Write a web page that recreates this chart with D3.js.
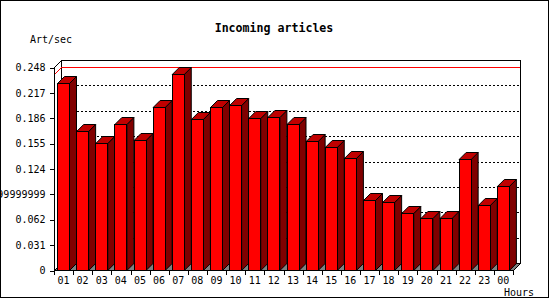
<!DOCTYPE html>
<html>
<head>
<meta charset="utf-8">
<script src="https://cdn.jsdelivr.net/npm/d3@7/dist/d3.min.js"></script>
<style>
  html, body { margin: 0; padding: 0; background: #fff; }
  svg { display: block; }
  text { font-family: "DejaVu Sans Mono", "Liberation Mono", monospace; fill: #000; }
</style>
</head>
<body>
<svg id="chart" width="550" height="300"></svg>
<script>
// ---- data ----
const hours = ["01","02","03","04","05","06","07","08","09","10","11","12",
               "13","14","15","16","17","18","19","20","21","22","23","00"];
const articles = [0.228, 0.170, 0.155, 0.178, 0.159, 0.199, 0.240, 0.185, 0.199, 0.201, 0.186, 0.1875,
                  0.178, 0.157, 0.150, 0.137, 0.086, 0.083, 0.070, 0.064, 0.063, 0.135, 0.079, 0.1025];
const yTickValues = [0, 0.031, 0.062, 0.093, 0.124, 0.155, 0.186, 0.217, 0.248];
const yTickLabels = ["0", "0.031", "0.062", "0.09299999999999999", "0.124", "0.155", "0.186", "0.217", "0.248"];
const titleText = "Incoming articles";
const yAxisLabel = "Art/sec";
const xAxisLabel = "Hours";

(function () {
// ---- layout ----
const svg = d3.select("#chart");
const W = 550, H = 300;
const pLeft = 54, pRight = 513, pBottom = 270, pTop = 67;
const depth = 7;
const barOffset = 3, barWidth = 12;

const x = d3.scaleBand().domain(hours).range([pLeft, pRight]).paddingInner(0).paddingOuter(0);
const y = d3.scaleLinear().domain([0, 0.248]).range([pBottom, pTop]);

svg.append("rect").attr("x", 0).attr("y", 0).attr("width", W).attr("height", H).attr("fill", "#fff");
svg.append("rect").attr("x", 0.5).attr("y", 0.5).attr("width", 548).attr("height", 297)
  .attr("fill", "none").attr("stroke", "#000");

const g = svg.append("g");

// back wall
g.append("rect")
  .attr("x", pLeft + depth + 0.5).attr("y", y(0.248) - depth + 0.5)
  .attr("width", pRight - pLeft).attr("height", y(0) - y(0.248))
  .attr("fill", "#fff").attr("stroke", "#000").attr("shape-rendering", "crispEdges");

// dotted grid lines on the back wall
g.selectAll("line.grid")
  .data(yTickValues.filter(v => v > 0 && v < 0.248))
  .join("line")
  .attr("class", "grid")
  .attr("x1", pLeft + depth).attr("x2", pRight + depth)
  .attr("y1", d => Math.round(y(d)) - depth + 0.5).attr("y2", d => Math.round(y(d)) - depth + 0.5)
  .attr("stroke", "#000").attr("stroke-dasharray", "2,2").attr("shape-rendering", "crispEdges");

// max line (red)
const maxV = d3.max(articles);
const ym = Math.round(y(maxV)) + 0.5;
g.append("line").attr("x1", pLeft + depth).attr("x2", pRight + depth)
  .attr("y1", ym - depth).attr("y2", ym - depth).attr("stroke", "#ff0000").attr("shape-rendering", "crispEdges");
g.append("line").attr("x1", pLeft + 0.5).attr("y1", ym).attr("x2", pLeft + depth + 0.5).attr("y2", ym - depth)
  .attr("stroke", "#ff0000");

// floor
g.append("polygon")
  .attr("points", [[pLeft + 0.5, pBottom + 0.5], [pLeft + depth + 0.5, pBottom - depth + 0.5], [pRight + depth + 0.5, pBottom - depth + 0.5], [pRight + 0.5, pBottom + 0.5]].map(p => p.join(",")).join(" "))
  .attr("fill", "#808080").attr("stroke", "#000").attr("stroke-width", 1);

// left wall edges
g.append("line").attr("x1", pLeft + 0.5).attr("y1", y(0.248) + 0.5).attr("x2", pLeft + depth + 0.5).attr("y2", y(0.248) - depth + 0.5).attr("stroke", "#000");
g.append("line").attr("x1", pLeft + 0.5).attr("y1", y(0.248)).attr("x2", pLeft + 0.5).attr("y2", pBottom + 0.5).attr("stroke", "#000").attr("shape-rendering", "crispEdges");

// bars
const bars = g.selectAll("g.bar").data(hours.map((h, i) => ({h, v: articles[i]}))).join("g").attr("class", "bar");
bars.append("polygon") // side
  .attr("points", d => {
    const x1 = x(d.h) + barOffset + barWidth + 0.5, yt = Math.round(y(d.v)) + 0.5, yb = pBottom + 0.5;
    return [[x1, yb], [x1 + depth, yb - depth], [x1 + depth, yt - depth], [x1, yt]].map(p => p.join(",")).join(" ");
  })
  .attr("fill", "#800000").attr("stroke", "#000");
bars.append("polygon") // top
  .attr("points", d => {
    const x0 = x(d.h) + barOffset + 0.5, x1 = x0 + barWidth, yt = Math.round(y(d.v)) + 0.5;
    return [[x0, yt], [x0 + depth, yt - depth], [x1 + depth, yt - depth], [x1, yt]].map(p => p.join(",")).join(" ");
  })
  .attr("fill", "#c00000").attr("stroke", "#000");
bars.append("rect") // front
  .attr("x", d => x(d.h) + barOffset + 0.5)
  .attr("y", d => Math.round(y(d.v)) + 0.5)
  .attr("width", barWidth)
  .attr("height", d => pBottom - Math.round(y(d.v)))
  .attr("fill", "#ff0000").attr("stroke", "#000").attr("shape-rendering", "crispEdges");

// front bottom axis line
g.append("line").attr("x1", pLeft).attr("x2", pRight).attr("y1", pBottom + 0.5).attr("y2", pBottom + 0.5)
  .attr("stroke", "#000").attr("shape-rendering", "crispEdges");

// y axis ticks & labels
const yAxis = d3.axisLeft(y).tickValues(yTickValues).tickSize(5).tickPadding(4)
  .tickFormat((d, i) => yTickLabels[i]);
const ya = svg.append("g").attr("transform", `translate(${pLeft + 0.5},0.5)`).call(yAxis);
ya.select(".domain").remove();
ya.selectAll("text").style("font-family", "'DejaVu Sans Mono', monospace").style("font-size", "10px").attr("fill", "#000");
ya.selectAll("line").attr("shape-rendering", "crispEdges");

// x axis ticks (at category boundaries) & labels
const xTicks = hours.map(h => x(h)).concat([pRight]);
svg.selectAll("line.xt").data(xTicks).join("line").attr("class", "xt")
  .attr("x1", d => Math.round(d) + 0.5).attr("x2", d => Math.round(d) + 0.5)
  .attr("y1", pBottom).attr("y2", pBottom + 5)
  .attr("stroke", "#000").attr("shape-rendering", "crispEdges");
svg.selectAll("text.xl").data(hours).join("text").attr("class", "xl")
  .attr("x", d => x(d) + barOffset + barWidth / 2 + 0.5)
  .attr("y", pBottom + 14)
  .attr("text-anchor", "middle").style("font-size", "10px")
  .text(d => d);

// titles
svg.append("text").attr("x", 274).attr("y", 31.5).attr("text-anchor", "middle")
  .style("font-size", "11.6px").style("font-weight", "bold").text(titleText);
svg.append("text").attr("x", 30).attr("y", 42.5).style("font-size", "10px").text(yAxisLabel);
svg.append("text").attr("x", 504).attr("y", 295.5).style("font-size", "10px").text(xAxisLabel);
})();
</script>
</body>
</html>
